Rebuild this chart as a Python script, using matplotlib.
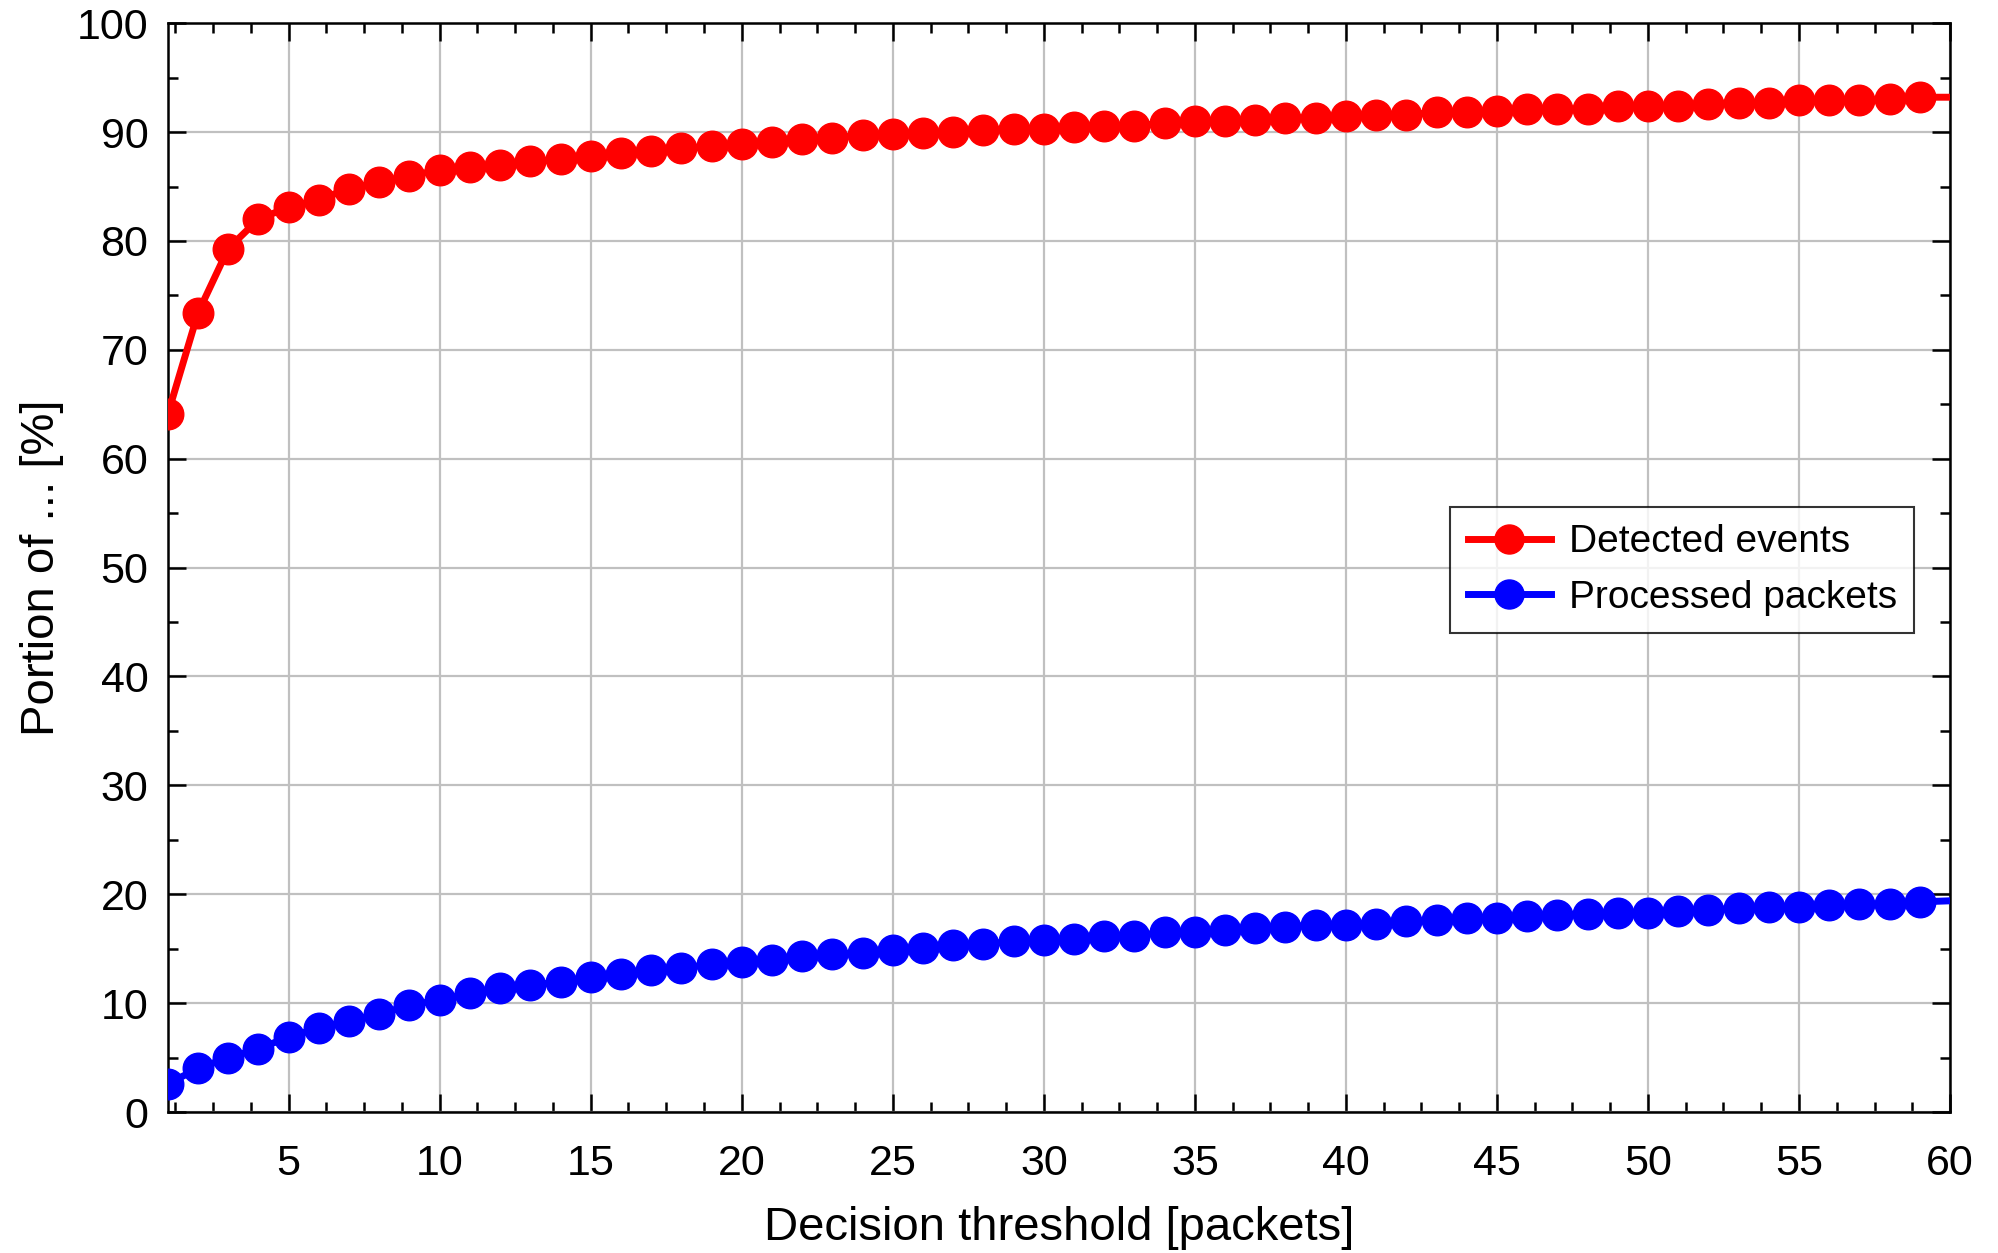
import matplotlib
matplotlib.use("Agg")
import matplotlib.pyplot as plt
from matplotlib.ticker import MultipleLocator

plt.rcParams['font.family'] = ['Liberation Sans', 'DejaVu Sans']

thresholds = list(range(1, 61))
detected_events = [
    64.1, 73.4, 79.3, 82.0, 83.1, 83.8, 84.8, 85.4, 86.0, 86.5,
    86.8, 87.0, 87.3, 87.5, 87.8, 88.1, 88.3, 88.5, 88.7, 88.9,
    89.1, 89.4, 89.5, 89.7, 89.8, 89.9, 90.0, 90.2, 90.3, 90.3,
    90.5, 90.6, 90.6, 90.8, 91.0, 91.0, 91.1, 91.3, 91.3, 91.5,
    91.6, 91.6, 91.8, 91.8, 91.9, 92.1, 92.1, 92.1, 92.4, 92.4,
    92.4, 92.6, 92.7, 92.7, 92.9, 92.9, 92.9, 93.0, 93.2, 93.2,
]
processed_packets = [
    2.6, 4.0, 5.0, 5.8, 6.9, 7.7, 8.4, 9.0, 9.8, 10.3,
    10.9, 11.4, 11.7, 11.9, 12.4, 12.7, 13.0, 13.2, 13.6, 13.8,
    14.0, 14.3, 14.5, 14.6, 14.9, 15.1, 15.3, 15.4, 15.7, 15.8,
    15.9, 16.2, 16.2, 16.5, 16.5, 16.7, 16.9, 17.0, 17.2, 17.2,
    17.3, 17.5, 17.6, 17.8, 17.8, 18.0, 18.1, 18.2, 18.3, 18.3,
    18.5, 18.6, 18.7, 18.8, 18.8, 19.0, 19.1, 19.1, 19.3, 19.4,
]
series_labels = ["Detected events", "Processed packets"]
x_ticks = [5, 10, 15, 20, 25, 30, 35, 40, 45, 50, 55, 60]
y_ticks = [0, 10, 20, 30, 40, 50, 60, 70, 80, 90, 100]

fig = plt.figure(figsize=(19.98, 12.53), dpi=100)
ax = fig.add_axes([0.084, 0.1125, 0.892, 0.869])

n_mark = len(thresholds) - 1
ax.plot(thresholds, detected_events, color='#ff0000', lw=5, marker='o',
        markersize=22, markevery=slice(0, n_mark), label=series_labels[0], zorder=3)
ax.plot(thresholds, processed_packets, color='#0000ff', lw=5, marker='o',
        markersize=22, markevery=slice(0, n_mark), label=series_labels[1], zorder=3)

ax.set_xlim(1, 60)
ax.set_ylim(0, 100)
ax.set_xticks(x_ticks)
ax.set_yticks(y_ticks)
ax.xaxis.set_minor_locator(MultipleLocator(1.25))
ax.yaxis.set_minor_locator(MultipleLocator(5))
ax.grid(True, which='major', color='#c0c0c0', lw=1.6, zorder=0)
ax.set_axisbelow(True)
ax.tick_params(which='both', direction='in', top=True, right=True,
               labelsize=31, width=1.8, color='black')
ax.tick_params(which='major', length=13)
ax.tick_params(axis='x', which='major', pad=23)
ax.tick_params(axis='y', which='major', pad=14)
ax.tick_params(which='minor', length=7)
for s in ax.spines.values():
    s.set_linewidth(1.8)

ax.set_xlabel("Decision threshold [packets]", fontsize=34, labelpad=16)
ax.set_ylabel("Portion of ... [%]", fontsize=34, labelpad=9)

leg = ax.legend(loc='upper right', bbox_to_anchor=(0.98, 0.556), borderaxespad=0,
                fontsize=28, frameon=True, fancybox=False, edgecolor='black',
                handlelength=2.15, handletextpad=0.45, borderpad=0.45, labelspacing=0.5,
                markerscale=0.95)
leg.get_frame().set_linewidth(1.5)

fig.savefig("out.png", dpi=100)
